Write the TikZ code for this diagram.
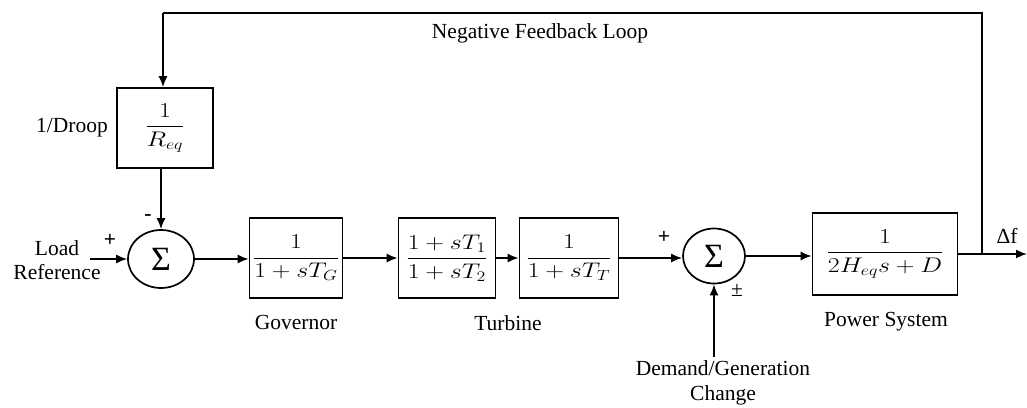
\documentclass[tikz,border=0pt]{standalone}
\usepackage{graphicx}
\usepackage{fontspec}
\setmainfont{Liberation Serif}
\usetikzlibrary{arrows.meta,shapes.geometric}
% transfer functions: widened display fractions
\newcommand{\tfbox}[1]{\scalebox{1.25}[1.02]{$\displaystyle #1$}}
\begin{document}
\begin{tikzpicture}[x=1pt,y=-1pt,
  every node/.style={font=\fontsize{21.5}{25}\selectfont, inner sep=0pt},
  block/.style={draw, line width=1.7pt, minimum height=80pt},
  summer/.style={draw, ellipse, line width=1.7pt, minimum width=66pt, minimum height=58pt,
    font=\fontsize{34}{36}\selectfont},
  sig/.style={line width=1.7pt, -{Latex[length=11pt,width=9pt]}},
  wire/.style={line width=1.7pt}]
\useasboundingbox (0,0) rectangle (1027,407);

% blocks
\node[block, minimum width=96pt] (req) at (165,128) {\tfbox{\frac{1}{R_{eq}}}};
\node[summer] (s1) at (161,259) {Σ};
\node[block, minimum width=93pt] (gov) at (296,258) {\tfbox{\frac{1}{1+sT_G}}};
\node[block, minimum width=97pt] (tb1) at (447,258) {\tfbox{\frac{1+sT_1}{1+sT_2}}};
\node[block, minimum width=99pt] (tb2) at (569,258) {\tfbox{\frac{1}{1+sT_T}}};
\node[summer, minimum width=62pt, minimum height=55pt] (s2) at (714,256) {Σ};
\node[block, minimum width=145pt, minimum height=82pt] (ps) at (885,254) {\tfbox{\frac{1}{2H_{eq}s+D}}};

% labels
\node (droop) at (72,128) {1/Droop};
\node[align=center, font=\fontsize{21.5}{24}\selectfont] (lref) at (57,260) {Load\\Reference};
\node (govl) at (296,322) {Governor};
\node (turl) at (508,323) {Turbine};
\node (psl) at (886,322) {Power System};
\node[align=center, font=\fontsize{21.5}{25}\selectfont] (dgc) at (723,383) {Demand/Generation\\Change};
\node (fbl) at (540,33) {Negative Feedback Loop};
\node (df) at (1007,236) {Δf};
\node (p1) at (110,240) {\textbf{+}};
\node (m1) at (148,218) {\textbf{-}};
\node (p2) at (664,237) {\textbf{+}};
\node (pm) at (737,290) {±};

% signal path
\coordinate (lin) at (90,259);
\coordinate (out) at (1027,254);
\coordinate (br) at (982,254);
\coordinate (tr) at (982,13);
\coordinate (tl) at (163,13);
\draw[sig] (lin) -- (s1.west);
\draw[sig] (s1.east) -- (s1.east -| gov.west);
\draw[sig] (gov.east) -- (gov.east -| tb1.west);
\draw[sig] (tb1.east) -- (tb1.east -| tb2.west);
\draw[sig] (tb2.east) -- (tb2.east -| s2.west);
\draw[sig] (s2.east) -- (s2.east -| ps.west);
\draw[sig] (ps.east) -- (out);
\draw[sig] (dgc.north -| s2.south) ++(0,-4) -- (s2.south);
\draw[wire] (br) -- (tr) -- (tl);
\draw[sig] (tl) -- (tl |- req.north);
\draw[sig] (req.south -| s1.north) -- (s1.north);
\end{tikzpicture}
\end{document}
